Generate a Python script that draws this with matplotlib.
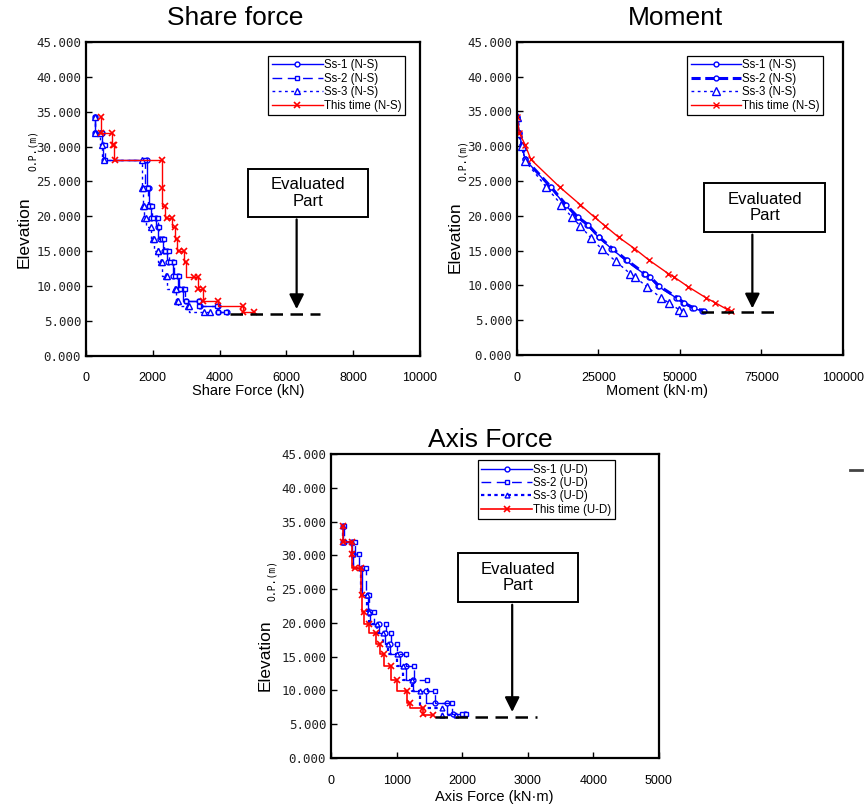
import numpy as np
import matplotlib
matplotlib.use('Agg')
import matplotlib.pyplot as plt
from matplotlib.patches import Rectangle
from matplotlib.lines import Line2D

plt.rcParams['font.family'] = ['Liberation Sans', 'DejaVu Sans']

# ---- Share force (step profiles) ----
sf_e_s1 = [34.3, 32.0, 32.0, 30.2, 28.0, 28.0, 24.1, 24.1, 21.5, 21.5, 19.8, 19.8, 18.4, 16.7, 16.7,
           15.0, 15.0, 13.5, 13.5, 11.5, 11.5, 9.6, 9.6, 7.9, 7.9, 7.1, 7.1, 6.3, 6.3]
sf_f_s1 = [270, 270, 470, 500, 540, 1815, 1815, 1880, 1880, 1960, 1960, 2100, 2160, 2230, 2300,
           2330, 2440, 2460, 2600, 2620, 2770, 2790, 2920, 3000, 3400, 3420, 3940, 3960, 4210]
sf_f_s2 = [270, 270, 470, 570, 570, 1765, 1790, 1860, 1900, 1990, 2020, 2150, 2200, 2290, 2340,
           2380, 2480, 2520, 2650, 2680, 2800, 2830, 2960, 2990, 3380, 3400, 3930, 3950, 4200]
sf_f_s3 = [270, 270, 420, 480, 540, 1665, 1665, 1700, 1700, 1740, 1740, 1800, 1960, 2000, 2030,
           2150, 2170, 2250, 2280, 2400, 2420, 2680, 2690, 2740, 2760, 3060, 3080, 3530, 3700]
sf_e_red = [34.3, 32.0, 32.0, 30.2, 30.2, 28.0, 28.0, 24.0, 21.5, 19.7, 19.7, 18.4, 16.7, 15.0, 15.0,
            13.5, 11.3, 11.3, 9.6, 9.6, 7.9, 7.9, 7.2, 6.3, 6.3]
sf_f_red = [440, 440, 790, 820, 850, 870, 2265, 2265, 2365, 2415, 2585, 2665, 2715, 2785, 2935,
            2995, 3245, 3365, 3365, 3490, 3510, 3960, 4710, 4710, 5040]

# ---- Moment ----
mo_e_s1 = [34.25, 31.9, 30.2, 28.1, 24.2, 21.6, 19.8, 18.7, 16.9, 15.3, 13.6, 11.7, 11.2, 9.9, 8.2, 7.5, 6.75, 6.35]
mo_m_s1 = [0, 720, 1450, 2500, 10060, 14740, 18380, 21500, 25020, 28970, 33330, 38840, 40500, 43200,
           48900, 50780, 53680, 56800]
mo_m_s2 = [0, 700, 1500, 2600, 10300, 15000, 18700, 21800, 25300, 29300, 33700, 39200, 40900, 43600,
           49300, 51200, 54200, 57300]
mo_e_s3 = [34.25, 31.9, 30.1, 27.9, 24.1, 21.6, 19.8, 18.6, 16.8, 15.2, 13.5, 11.7, 11.2, 9.8, 8.2, 7.5, 6.5, 6.25]
mo_m_s3 = [0, 400, 1450, 2500, 9030, 13600, 16820, 19320, 22740, 26070, 30220, 34680, 36240, 39880,
           44240, 46620, 49740, 51000]
mo_e_red = [34.25, 31.9, 30.2, 28.1, 24.1, 21.6, 19.8, 18.6, 16.9, 15.3, 13.6, 11.7, 11.2, 9.8, 8.2, 7.5, 6.6, 6.35]
mo_m_red = [0, 720, 2500, 4260, 13180, 19400, 23780, 26900, 31250, 36040, 40600, 46400, 48190, 52550,
            58040, 60850, 64270, 65520]

# ---- Axis force ----
ax_e_s1 = [34.3, 32.0, 32.0, 30.2, 28.2, 24.1, 21.6, 19.9, 18.5, 16.9, 15.4, 13.6, 11.6, 9.9, 8.1, 8.1, 6.5, 6.5]
ax_f_s1 = [178, 178, 325, 340, 467, 569, 595, 737, 823, 900, 1052, 1143, 1245, 1448, 1585, 1763, 1865, 2043]
ax_e_s2 = [34.3, 32.0, 32.0, 30.2, 28.2, 24.1, 21.6, 19.9, 18.5, 16.9, 15.4, 13.6, 11.6, 9.9, 8.1, 6.5, 6.5]
ax_f_s2 = [200, 200, 366, 432, 528, 584, 655, 833, 915, 1001, 1143, 1270, 1458, 1585, 1849, 1992, 2053]
ax_e_s3 = [34.3, 32.0, 32.0, 30.2, 28.2, 24.1, 21.6, 19.9, 18.5, 16.9, 15.4, 13.6, 11.6, 9.9, 7.4, 6.3, 6.3]
ax_f_s3 = [178, 178, 315, 330, 450, 550, 580, 700, 800, 870, 1000, 1100, 1230, 1357, 1687, 1687, 1900]
ax_e_red = [34.3, 32.0, 32.0, 30.2, 28.2, 28.2, 24.1, 21.6, 19.9, 18.5, 16.9, 15.4, 13.6, 11.6, 9.9, 8.1, 7.4, 6.5, 6.3]
ax_f_red = [178, 178, 315, 325, 366, 452, 467, 508, 584, 686, 747, 808, 915, 1001, 1163, 1204, 1398, 1408, 1560]

BLUE = '#0000ff'
RED = '#ff0000'


def frame(ax, xmax, xstep):
    ax.set_xlim(0, xmax)
    ax.set_ylim(0, 45)
    ax.set_xticks(np.arange(0, xmax + 1, xstep))
    ax.set_yticks(np.arange(0, 46, 5))
    ax.set_yticklabels(['%.3f' % v for v in np.arange(0, 46, 5)], family='DejaVu Sans Mono',
                       fontsize=9, color='#222222')
    ax.tick_params(direction='in', length=4, width=1, labelsize=9, top=False, right=False)
    ax.tick_params(axis='x', pad=12)
    for s in ax.spines.values():
        s.set_linewidth(1.6)


def evaluated(ax, box, arrow_x, tip_y, dash):
    x0, x1, y0, y1 = box
    ax.add_patch(Rectangle((x0, y0), x1 - x0, y1 - y0, fill=True, facecolor='white',
                           edgecolor='black', lw=1.4, zorder=5))
    ax.text((x0 + x1) / 2, (y0 + y1) / 2, 'Evaluated\nPart', ha='center', va='center',
            fontsize=12, linespacing=1.1, zorder=6)
    ax.annotate('', xy=(arrow_x, tip_y), xytext=(arrow_x, y0),
                arrowprops=dict(arrowstyle='-|>', color='black', lw=1.6, mutation_scale=22), zorder=6)
    ax.plot(dash[:2], [dash[2], dash[2]], color='black', lw=1.8, dashes=(5, 3), zorder=4)


def legend(ax, anchor):
    lg = ax.legend(loc='upper right', bbox_to_anchor=anchor, fontsize=8.3, handlelength=4.4,
                   handletextpad=0.1, labelspacing=0.12, borderpad=0.3, fancybox=False,
                   edgecolor='black', framealpha=1, numpoints=1, borderaxespad=0)
    lg.get_frame().set_linewidth(0.9)


fig = plt.figure(figsize=(8.67, 8.05), dpi=100)

# Share force
ax1 = fig.add_axes([0.0992, 0.558, 0.385, 0.390])
ax1.plot(sf_f_s1, sf_e_s1, color=BLUE, lw=1, ds='steps-pre', marker='o', ms=3.5, mfc='white', label='Ss-1 (N-S)')
ax1.plot(sf_f_s2, sf_e_s1, color=BLUE, lw=1, ds='steps-pre', dashes=(7, 4), marker='s', ms=3.5, mfc='white', label='Ss-2 (N-S)')
ax1.plot(sf_f_s3, sf_e_s1, color=BLUE, lw=1, ds='steps-pre', dashes=(2, 2.5), marker='^', ms=4, mfc='white', label='Ss-3 (N-S)')
ax1.plot(sf_f_red, sf_e_red, color=RED, lw=1, ds='steps-pre', marker='x', ms=4.5, mew=1.2, label='This time (N-S)')
frame(ax1, 10000, 2000)
legend(ax1, (0.955, 0.955))
evaluated(ax1, (4840, 8450, 19.95, 26.75), 6310, 6.3, (4300, 7000, 6.0))

# Moment
ax2 = fig.add_axes([0.5963, 0.559, 0.376, 0.389])
ax2.plot(mo_m_s1, mo_e_s1, color=BLUE, lw=1, marker='o', ms=3.5, mfc='white', label='Ss-1 (N-S)')
ax2.plot(mo_m_s2, mo_e_s1, color=BLUE, lw=2.2, dashes=(3, 1.5), marker='o', ms=3.5, mew=1, mfc='white', label='Ss-2 (N-S)')
ax2.plot(mo_m_s3, mo_e_s3, color=BLUE, lw=1, dashes=(2, 2.5), marker='^', ms=6, mfc='white', label='Ss-3 (N-S)')
ax2.plot(mo_m_red, mo_e_red, color=RED, lw=1, marker='x', ms=4, mew=1, label='This time (N-S)')
frame(ax2, 100000, 25000)
legend(ax2, (0.94, 0.955))
evaluated(ax2, (57400, 94500, 17.7, 24.7), 72200, 6.3, (56400, 80400, 6.2))

# Axis force
ax3 = fig.add_axes([0.3818, 0.0584, 0.378, 0.3776])
ax3.plot(ax_f_s1, ax_e_s1, color=BLUE, lw=1, ds='steps-pre', marker='o', ms=3.5, mfc='white', label='Ss-1 (U-D)')
ax3.plot(ax_f_s2, ax_e_s2, color=BLUE, lw=1, ds='steps-pre', dashes=(7, 4), marker='s', ms=3.5, mfc='white', label='Ss-2 (U-D)')
ax3.plot(ax_f_s3, ax_e_s3, color=BLUE, lw=1.6, ds='steps-pre', dashes=(1.5, 1.5), marker='^', ms=3.5, mfc='white', label='Ss-3 (U-D)')
ax3.plot(ax_f_red, ax_e_red, color=RED, lw=1.2, ds='steps-pre', marker='x', ms=4.5, mew=1.2, label='This time (U-D)')
frame(ax3, 5000, 1000)
legend(ax3, (0.866, 0.98))
evaluated(ax3, (1930, 3770, 23.1, 30.3), 2764, 6.4, (1585, 3140, 6.1))

# titles and axis labels
fig.text(235 / 867, 1 - 18 / 805, 'Share force', ha='center', va='center', fontsize=19)
fig.text(675 / 867, 1 - 18 / 805, 'Moment', ha='center', va='center', fontsize=19)
fig.text(490 / 867, 1 - 440 / 805, 'Axis Force', ha='center', va='center', fontsize=19)

fig.text(248 / 867, 1 - 391 / 805, 'Share Force (kN)', ha='center', va='center', fontsize=10.5)
fig.text(657 / 867, 1 - 391 / 805, 'Moment (kN\u00b7m)', ha='center', va='center', fontsize=10.5)
fig.text(494 / 867, 1 - 797 / 805, 'Axis Force (kN\u00b7m)', ha='center', va='center', fontsize=10.5)

for xe, ye, xo, yo in [(24, 232, 33, 150), (455, 237, 463, 160), (265, 655, 272, 580)]:
    fig.text(xe / 867, 1 - ye / 805, 'Elevation', rotation=90, ha='center', va='center', fontsize=12.5)
    fig.text(xo / 867, 1 - yo / 805, 'O.P.(m)', rotation=90, ha='center', va='center',
             fontsize=7, family='DejaVu Sans Mono')

# small stray mark at right edge of the original
fig.add_artist(Line2D([850 / 867, 862 / 867], [1 - 470 / 805, 1 - 470 / 805], color='#444444', lw=2))

fig.savefig('out.png', dpi=100)
